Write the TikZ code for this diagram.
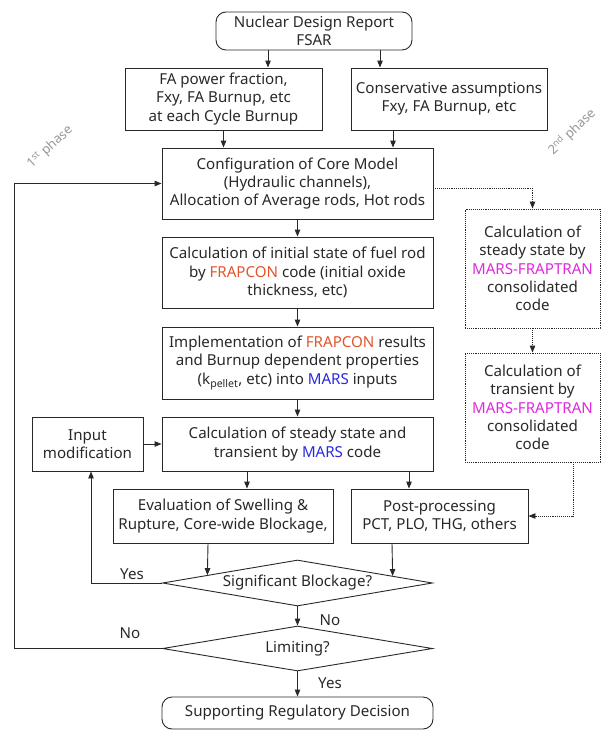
\documentclass[tikz,border=0pt]{standalone}
\usepackage{fontspec}
\setmainfont{Noto Sans}
\usetikzlibrary{shapes.geometric,arrows.meta,calc}
\definecolor{frapc}{RGB}{226,84,44}
\definecolor{marsc}{RGB}{40,40,225}
\definecolor{fraptran}{RGB}{222,40,222}
\definecolor{phasec}{RGB}{150,150,150}
\definecolor{ink}{RGB}{40,40,40}
\begin{document}
\begin{tikzpicture}[x=1pt,y=-1pt,
  every node/.style={font=\fontsize{15.1}{18.3}\selectfont, text=ink},
  box/.style={draw=ink, line width=0.9pt, align=center, inner sep=0pt},
  dbox/.style={box, densely dotted},
  rbox/.style={box, rounded corners=10pt},
  dec/.style={draw=ink, line width=0.9pt, diamond, shape aspect=5.8, inner sep=0pt, minimum width=270pt},
  arr/.style={draw=ink, line width=0.9pt, -{Triangle[length=7pt,width=5.5pt]}},
  darr/.style={arr, densely dotted},
  lbl/.style={inner sep=0pt},
  phase/.style={text=phasec, font=\fontsize{13}{15}\selectfont, inner sep=0pt}
]
\useasboundingbox (0,0) rectangle (601,731);

\node[rbox, minimum width=196pt, minimum height=38pt] (top) at (314,31) {Nuclear Design Report\\FSAR};
\node[box, minimum width=197pt, minimum height=62pt] (fa) at (223.5,99) {FA power fraction,\\Fxy, FA Burnup, etc\\at each Cycle Burnup};
\node[box, minimum width=196pt, minimum height=62pt] (cons) at (449,99) {Conservative assumptions\\Fxy, FA Burnup, etc};
\node[box, minimum width=271pt, minimum height=71pt] (config) at (297.5,183.5) {Configuration of Core Model\\(Hydraulic channels),\\Allocation of Average rods, Hot rods};
\node[box, minimum width=271pt, minimum height=71pt] (frap) at (297.5,272.5) {Calculation of initial state of fuel rod\\by \textcolor{frapc}{FRAPCON} code (initial oxide\\thickness, etc)};
\node[box, minimum width=271pt, minimum height=72pt] (impl) at (297.5,363) {Implementation of \textcolor{frapc}{FRAPCON} results\\and Burnup dependent properties\\(k\textsubscript{pellet}, etc) into \textcolor{marsc}{MARS} inputs};
\node[box, minimum width=271pt, minimum height=54pt] (mars) at (297.5,444) {Calculation of steady state and\\transient by \textcolor{marsc}{MARS} code};
\node[box, minimum width=111pt, minimum height=54pt] (inmod) at (87.5,444) {Input\\modification};
\node[box, minimum width=220pt, minimum height=54pt] (eval) at (223,516) {Evaluation of Swelling \&\\Rupture, Core-wide Blockage,};
\node[box, minimum width=177pt, minimum height=54pt] (post) at (439.5,516) {Post-processing\\PCT, PLO, THG, others};
\node[dbox, minimum width=135pt, minimum height=119pt] (dash1) at (532.5,268.5) {Calculation of\\steady state by\\\textcolor{fraptran}{MARS-FRAPTRAN}\\consolidated\\code};
\node[dbox, minimum width=135pt, minimum height=109pt] (dash2) at (532.5,407.5) {Calculation of\\transient by\\\textcolor{fraptran}{MARS-FRAPTRAN}\\consolidated\\code};
\node[dec, minimum height=46pt] (d1) at (297.5,583) {Significant Blockage?};
\node[dec, minimum height=45pt] (d2) at (297.5,648.5) {Limiting?};
\node[rbox, minimum width=271pt, minimum height=32pt] (bot) at (297.5,713) {Supporting Regulatory Decision};

\node[phase, rotate=42] (p1) at (50,147) {1\textsuperscript{st} phase};
\node[phase, rotate=44] (p2) at (572,132) {2\textsuperscript{nd} phase};

\node[lbl] (yes1) at (132,574) {Yes};
\node[lbl] (no1) at (330,620) {No};
\node[lbl] (no2) at (130,633) {No};
\node[lbl] (yes2) at (330,683) {Yes};

\coordinate (loopx) at (14,0);

\draw[arr] ([xshift=-46pt]top.south) -- ([xshift=-46pt]top.south |- fa.north);
\draw[arr] ([xshift=66pt]top.south) -- ([xshift=66pt]top.south |- cons.north);
\draw[arr] (fa.south) -- (fa.south |- config.north);
\draw[arr] ([xshift=-56pt]cons.south) -- ([xshift=-56pt]cons.south |- config.north);
\draw[arr] (config) -- (frap);
\draw[arr] (frap) -- (impl);
\draw[arr] (impl) -- (mars);
\draw[arr] (inmod) -- (mars);
\draw[arr] ([xshift=-50.5pt]mars.south) -- ([xshift=-50.5pt]mars.south |- eval.north);
\draw[arr] ([xshift=111.5pt]mars.south) -- ([xshift=111.5pt]mars.south |- post.north);
\draw[arr] ([xshift=-15pt]eval.south) -- ($(d1.west)!0.3346!(d1.north)$);
\draw[arr] ([xshift=-47.5pt]post.south) -- ($(d1.north)!0.7026!(d1.east)$);
\draw[arr] (d1.south) -- (d2.north);
\draw[arr] (d2.south) -- (bot.north);
\draw[arr] (d1.west) -| ([xshift=3.5pt]inmod.south);
\draw[arr] (d2.west) -- (d2.west -| loopx) -- (config.west -| loopx) -- (config.west);

\draw[darr] ([yshift=-4.5pt]config.east) -| (dash1.north);
\draw[darr] (dash1) -- (dash2);
\draw[darr] ([xshift=40.5pt]dash2.south) |- (post.east);
\end{tikzpicture}
\end{document}
